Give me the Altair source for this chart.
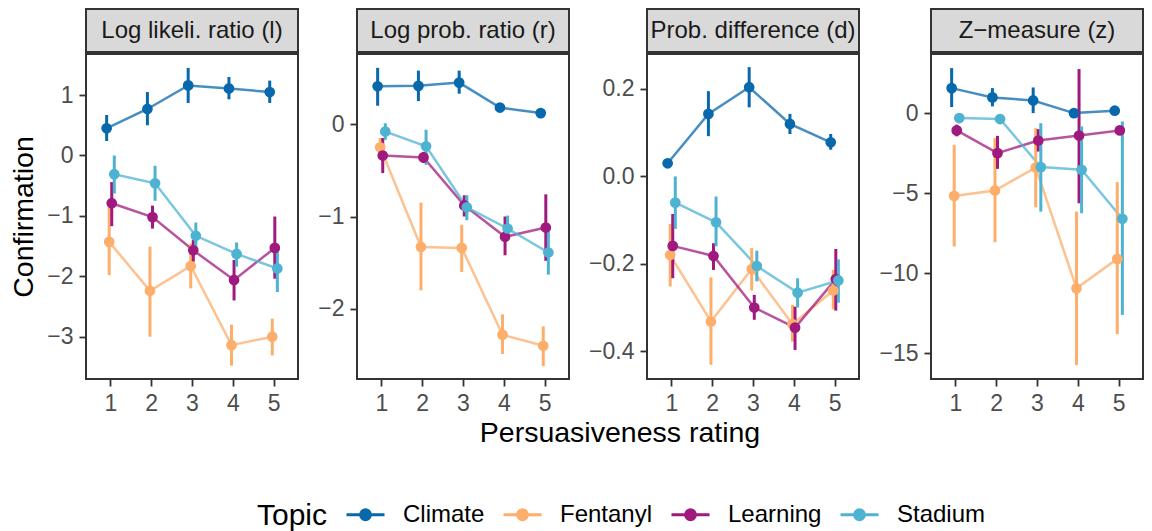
import json
import altair as alt
import pandas as pd

# ---------------- data ----------------
RATINGS = [1, 2, 3, 4, 5]
TOPICS = ["Climate", "Fentanyl", "Learning", "Stadium"]
TOPIC_COLORS = ["#0868ac", "#fdae6b", "#a0197e", "#4eb3d3"]
MEASURES = ["Log likeli. ratio (l)", "Log prob. ratio (r)",
            "Prob. difference (d)", "Z\u2212measure (z)"]

# Log likelihood ratio (l)
L_CLIMATE = [0.45, 0.77, 1.16, 1.11, 1.05]
L_CLIMATE_LO = [0.24, 0.50, 0.87, 0.93, 0.87]
L_CLIMATE_HI = [0.67, 1.05, 1.45, 1.30, 1.24]
L_FENTANYL = [-1.43, -2.24, -1.83, -3.14, -3.00]
L_FENTANYL_LO = [-1.98, -3.00, -2.20, -3.48, -3.31]
L_FENTANYL_HI = [-0.86, -1.51, -1.46, -2.80, -2.70]
L_LEARNING = [-0.79, -1.02, -1.57, -2.06, -1.53]
L_LEARNING_LO = [-1.17, -1.21, -1.76, -2.40, -2.04]
L_LEARNING_HI = [-0.44, -0.83, -1.40, -1.73, -1.01]
L_STADIUM = [-0.31, -0.46, -1.33, -1.63, -1.87]
L_STADIUM_LO = [-0.63, -0.75, -1.55, -1.84, -2.26]
L_STADIUM_HI = [0.00, -0.17, -1.11, -1.44, -1.50]

# Log probability ratio (r)
R_CLIMATE = [0.41, 0.415, 0.45, 0.18, 0.12]
R_CLIMATE_LO = [0.20, 0.25, 0.33, 0.15, 0.10]
R_CLIMATE_HI = [0.61, 0.58, 0.58, 0.21, 0.14]
R_FENTANYL = [-0.25, -1.33, -1.34, -2.28, -2.40]
R_FENTANYL_LO = [-0.35, -1.80, -1.60, -2.49, -2.62]
R_FENTANYL_HI = [-0.15, -0.85, -1.09, -2.06, -2.19]
R_LEARNING = [-0.34, -0.36, -0.88, -1.22, -1.12]
R_LEARNING_LO = [-0.53, -0.42, -1.00, -1.42, -1.48]
R_LEARNING_HI = [-0.15, -0.30, -0.77, -1.00, -0.76]
R_STADIUM = [-0.08, -0.24, -0.90, -1.13, -1.39]
R_STADIUM_LO = [-0.17, -0.44, -1.04, -1.26, -1.63]
R_STADIUM_HI = [0.01, -0.06, -0.77, -0.99, -1.16]

# Probability difference (d)
D_CLIMATE = [0.030, 0.143, 0.204, 0.120, 0.078]
D_CLIMATE_LO = [0.022, 0.092, 0.158, 0.097, 0.061]
D_CLIMATE_HI = [0.038, 0.195, 0.250, 0.143, 0.097]
D_FENTANYL = [-0.180, -0.332, -0.212, -0.338, -0.261]
D_FENTANYL_LO = [-0.252, -0.431, -0.261, -0.378, -0.304]
D_FENTANYL_HI = [-0.109, -0.231, -0.164, -0.294, -0.214]
D_LEARNING = [-0.159, -0.182, -0.300, -0.346, -0.235]
D_LEARNING_LO = [-0.233, -0.214, -0.328, -0.397, -0.307]
D_LEARNING_HI = [-0.086, -0.153, -0.271, -0.298, -0.166]
D_STADIUM = [-0.060, -0.105, -0.205, -0.266, -0.238]
D_STADIUM_LO = [-0.120, -0.160, -0.240, -0.300, -0.289]
D_STADIUM_HI = [0.000, -0.046, -0.170, -0.233, -0.190]

# Z-measure (z)
Z_CLIMATE = [1.56, 0.98, 0.79, 0.00, 0.15]
Z_CLIMATE_LO = [0.38, 0.42, 0.00, -0.20, -0.10]
Z_CLIMATE_HI = [2.81, 1.56, 1.60, 0.20, 0.35]
Z_FENTANYL = [-5.17, -4.83, -3.40, -10.94, -9.10]
Z_FENTANYL_LO = [-8.33, -8.06, -5.88, -15.73, -13.80]
Z_FENTANYL_HI = [-1.98, -1.56, -0.94, -6.15, -4.31]
Z_LEARNING = [-1.08, -2.50, -1.71, -1.40, -1.08]
Z_LEARNING_LO = [-1.45, -3.48, -2.40, -5.63, -1.35]
Z_LEARNING_HI = [-0.72, -1.42, -1.00, 2.75, -0.80]
Z_STADIUM = [-0.31, -0.37, -3.37, -3.54, -6.60]
Z_STADIUM_LO = [-0.55, -0.60, -6.15, -6.25, -12.60]
Z_STADIUM_HI = [-0.08, -0.15, -0.63, -0.83, -0.52]

Y_DOMAINS = [[-3.70, 1.68], [-2.76, 0.76], [-0.4635, 0.28], [-16.6, 3.69]]
Y_TICKS = [[-3, -2, -1, 0, 1], [-2, -1, 0], [-0.4, -0.2, 0.0, 0.2], [-15, -10, -5, 0]]
Y_FORMATS = ["d", "d", ".1f", "d"]

Y_TITLE = "Confirmation"
X_TITLE = "Persuasiveness rating"
LEGEND_TITLE = "Topic"

SERIES = {
    MEASURES[0]: [(L_CLIMATE, L_CLIMATE_LO, L_CLIMATE_HI), (L_FENTANYL, L_FENTANYL_LO, L_FENTANYL_HI),
                  (L_LEARNING, L_LEARNING_LO, L_LEARNING_HI), (L_STADIUM, L_STADIUM_LO, L_STADIUM_HI)],
    MEASURES[1]: [(R_CLIMATE, R_CLIMATE_LO, R_CLIMATE_HI), (R_FENTANYL, R_FENTANYL_LO, R_FENTANYL_HI),
                  (R_LEARNING, R_LEARNING_LO, R_LEARNING_HI), (R_STADIUM, R_STADIUM_LO, R_STADIUM_HI)],
    MEASURES[2]: [(D_CLIMATE, D_CLIMATE_LO, D_CLIMATE_HI), (D_FENTANYL, D_FENTANYL_LO, D_FENTANYL_HI),
                  (D_LEARNING, D_LEARNING_LO, D_LEARNING_HI), (D_STADIUM, D_STADIUM_LO, D_STADIUM_HI)],
    MEASURES[3]: [(Z_CLIMATE, Z_CLIMATE_LO, Z_CLIMATE_HI), (Z_FENTANYL, Z_FENTANYL_LO, Z_FENTANYL_HI),
                  (Z_LEARNING, Z_LEARNING_LO, Z_LEARNING_HI), (Z_STADIUM, Z_STADIUM_LO, Z_STADIUM_HI)],
}

rows = []
for m in MEASURES:
    for topic, (mean, lo, hi) in zip(TOPICS, SERIES[m]):
        for r, v, a, b in zip(RATINGS, mean, lo, hi):
            rows.append({"measure": m, "topic": topic, "rating": r, "value": v, "lo": a, "hi": b})
df = pd.DataFrame(rows)

# ---------------- style ----------------
FONT = "Liberation Sans"
PANEL_W = 212
PANEL_H = 325
STRIP_H = 43
DODGE = 0.0625

SYMBOL = "M-1,0L1,0M-0.26,0A0.26,0.26,0,1,1,0.26,0A0.26,0.26,0,1,1,-0.26,0Z"

legend = alt.Legend(
    title=LEGEND_TITLE, orient="none", legendX=171, legendY=485,
    direction="horizontal", titleOrient="left", titlePadding=17,
    titleBaseline="line-top", titleLineHeight=13,
    titleFontSize=30, titleFontWeight="normal", titleColor="#000000", titleFont=FONT,
    labelFontSize=24, labelColor="#000000", labelFont=FONT, labelOffset=17,
    columnPadding=12, symbolType=SYMBOL, symbolSize=1444, symbolStrokeWidth=3,
    symbolOpacity=1,
)
color = alt.Color("topic:N", scale=alt.Scale(domain=TOPICS, range=TOPIC_COLORS), legend=legend)

dodge_expr = f"datum.rating + (indexof({json.dumps(TOPICS)}, datum.topic) - {(len(TOPICS) - 1) / 2}) * {DODGE}"


def panel(i):
    m = MEASURES[i]
    base = alt.Chart(df[df.measure == m]).transform_calculate(xd=dodge_expr)
    x = alt.X("xd:Q", scale=alt.Scale(domain=[0.4, 5.6], nice=False, zero=False),
              axis=alt.Axis(values=RATINGS, format="d", title=None))
    yaxis = alt.Axis(values=Y_TICKS[i], format=Y_FORMATS[i],
                     title=Y_TITLE if i == 0 else None)
    yscale = alt.Scale(domain=Y_DOMAINS[i], nice=False, zero=False)
    y = alt.Y("value:Q", scale=yscale, axis=yaxis)

    line = base.mark_line(strokeWidth=2.5, opacity=0.75).encode(x=x, y=y, color=color)
    bars = base.mark_rule(strokeWidth=3).encode(
        x=x, y=alt.Y("lo:Q", scale=yscale, axis=yaxis), y2="hi:Q", color=color)
    pts = base.mark_circle(size=115, opacity=1).encode(x=x, y=y, color=color)
    plot = alt.layer(line, bars, pts).properties(width=PANEL_W, height=PANEL_H)

    strip = alt.Chart(pd.DataFrame({"t": [m]})).mark_text(
        fontSize=24, font=FONT, color="#1a1a1a", baseline="middle"
    ).encode(text="t:N").properties(
        width=PANEL_W, height=STRIP_H,
        view=alt.ViewBackground(fill="#d9d9d9", stroke="#333333", strokeWidth=2),
    )
    return alt.vconcat(strip, plot, spacing=0)


panels = alt.hconcat(*[panel(i) for i in range(len(MEASURES))], spacing=17).resolve_scale(
    x="independent", y="independent", color="shared")

xtitle = alt.Chart(pd.DataFrame({"t": [X_TITLE]})).mark_text(opacity=0).encode(
    text="t:N"
).properties(
    width=1000, height=1,
    title=alt.TitleParams(X_TITLE, orient="top", anchor="middle", frame="group", dx=34,
                          offset=0, fontSize=28.5, fontWeight="normal", font=FONT,
                          color="#000000"),
    view=alt.ViewBackground(strokeOpacity=0),
)

chart = alt.vconcat(panels, xtitle, spacing=3).resolve_scale(color="shared").properties(
    padding={"left": 0, "top": 0, "right": 0, "bottom": 0}
).configure(font=FONT).configure_view(
    stroke="#333333", strokeWidth=2
).configure_axis(
    grid=False, domain=False, tickColor="#333333", tickWidth=1.8, tickSize=7,
    labelPadding=6, labelFontSize=23, labelColor="#4d4d4d", labelFont=FONT,
    titleFontSize=28.5, titleFontWeight="normal", titleColor="#000000", titleFont=FONT,
    titlePadding=8,
)

chart.save("out.html", embed_options={"renderer": "svg", "actions": False})
